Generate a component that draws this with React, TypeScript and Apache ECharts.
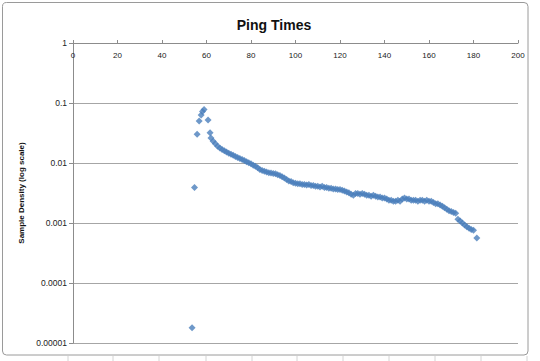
import React, { useEffect, useRef } from "react";
import * as echarts from "echarts";

const chartTitle = "Ping Times";
const yAxisTitle = "Sample Density (log scale)";
const xTickLabels = ["0", "20", "40", "60", "80", "100", "120", "140", "160", "180", "200"];
const yTickLabels = ["0.00001", "0.0001", "0.001", "0.01", "0.1", "1"];

// ping time (ms) for each sample bin
const pingMs = [
  53.5, 54.6, 55.8, 56.7, 57.6, 58.2, 58.9, 60.7, 61.6,
  62, 63, 64, 65, 66, 67, 68, 69, 70, 71, 72, 73, 74, 75, 76, 77, 78, 79, 80, 81,
  82, 83, 84, 85, 86, 87, 88, 89, 90, 91, 92, 93, 94, 95, 96, 97, 98, 99, 100, 101,
  102, 103, 104, 105, 106, 107, 108, 109, 110, 111, 112, 113, 114, 115, 116, 117, 118, 119, 120, 121,
  122, 123, 124, 125, 126, 127, 128, 129, 130, 131, 132, 133, 134, 135, 136, 137, 138, 139, 140, 141,
  142, 143, 144, 145, 146, 147, 148, 149, 150, 151, 152, 153, 154, 155, 156, 157, 158, 159, 160, 161,
  162, 163, 164, 165, 166, 167, 168, 169, 170, 171, 172,
  173, 174, 175, 176, 177, 178, 179, 180, 181.5,
];

// sample density
const density = [
  0.000018, 0.0039, 0.030, 0.050, 0.063, 0.072, 0.078, 0.052, 0.032,
  0.026, 0.023, 0.021, 0.019, 0.0178, 0.0168, 0.016, 0.0152, 0.0145, 0.014, 0.0134, 0.0128, 0.0124, 0.0119, 0.0114, 0.011, 0.0105, 0.0101, 0.0097, 0.0092,
  0.0088, 0.0083, 0.0078, 0.0075, 0.0073, 0.0071, 0.0069, 0.0068, 0.0067, 0.0066, 0.0064, 0.0062, 0.0059, 0.0056, 0.0053, 0.005, 0.0049, 0.0047, 0.0046, 0.0045,
  0.0045, 0.0044, 0.0044, 0.0043, 0.0044, 0.0042, 0.0042, 0.0041, 0.0041, 0.004, 0.0041, 0.0039, 0.0039, 0.0038, 0.0038, 0.0037, 0.0037, 0.0036, 0.0036, 0.0035,
  0.0034, 0.0033, 0.0032, 0.003, 0.0029, 0.0031, 0.0031, 0.003, 0.0031, 0.003, 0.0029, 0.0029, 0.0028, 0.0029, 0.0028, 0.0027, 0.0027, 0.0026, 0.0026, 0.0025,
  0.0024, 0.0024, 0.0023, 0.0023, 0.0024, 0.0023, 0.0025, 0.0026, 0.0025, 0.0025, 0.0024, 0.0024, 0.0024, 0.0023, 0.0024, 0.0024, 0.0023, 0.0024, 0.0023, 0.0023,
  0.0022, 0.0021, 0.0021, 0.002, 0.0019, 0.0018, 0.0017, 0.0016, 0.00155, 0.0015, 0.00145,
  0.00115, 0.00108, 0.001, 0.00093, 0.00087, 0.00082, 0.00078, 0.00076, 0.00056,
];

const FONT = "'Liberation Sans', Arial, sans-serif";

export default function App() {
  const ref = useRef<HTMLDivElement>(null);

  useEffect(() => {
    if (!ref.current) return;
    const chart = echarts.init(ref.current, null, { renderer: "svg" });
    const data = pingMs.map((x, i) => [x, density[i]]);
    const bottomTicks = [68, 113, 159, 206, 252, 297, 343, 389, 435, 481, 527];

    chart.setOption({
      animation: false,
      backgroundColor: "#ffffff",
      title: {
        text: chartTitle,
        left: 269,
        top: 13,
        textAlign: "center",
        textStyle: { fontFamily: FONT, fontSize: 14, fontWeight: "bold", color: "#111" },
      },
      grid: { left: 73, top: 43, right: 22, bottom: 18, containLabel: false },
      xAxis: {
        type: "value",
        position: "top",
        min: 0,
        max: 200,
        interval: 20,
        axisLine: { show: true, lineStyle: { color: "#8c8c8c", width: 1 } },
        axisTick: { show: true, inside: false, length: 3, lineStyle: { color: "#8c8c8c" } },
        axisLabel: {
          inside: true,
          margin: 8,
          fontFamily: FONT,
          fontSize: 8,
          color: "#222",
          formatter: (v: number) => xTickLabels[Math.round(v / 20)] ?? "",
        },
        splitLine: { show: false },
      },
      yAxis: {
        type: "log",
        logBase: 10,
        min: 0.00001,
        max: 1,
        splitNumber: 5,
        axisLine: { show: true, lineStyle: { color: "#8c8c8c", width: 1 } },
        axisTick: { show: true, inside: false, length: 4, lineStyle: { color: "#8c8c8c" } },
        minorTick: { show: false },
        axisLabel: {
          margin: 6,
          fontFamily: FONT,
          fontSize: 8.5,
          color: "#222",
          formatter: (v: number) => yTickLabels[Math.round(Math.log10(v)) + 5] ?? "",
        },
        splitLine: { show: true, lineStyle: { color: "#a6a6a6", width: 1 } },
      },
      series: [
        {
          type: "scatter",
          data,
          symbol: "diamond",
          symbolSize: 7,
          itemStyle: { color: "#4a7ebb" },
        },
      ],
      graphic: [
        {
          type: "rect",
          shape: { x: 2.5, y: 2.5, width: 525.5, height: 352.5, r: 4 },
          style: { fill: "none", stroke: "#9a9a9a", lineWidth: 1 },
          z: -1,
        },
        {
          type: "text",
          x: 21,
          y: 193,
          rotation: Math.PI / 2,
          style: {
            text: yAxisTitle,
            fontFamily: FONT,
            fontSize: 8,
            fontWeight: "bold",
            fill: "#111",
            textAlign: "center",
            textVerticalAlign: "middle",
          },
        },
        ...bottomTicks.map((bx) => ({
          type: "line",
          shape: { x1: bx, y1: 356, x2: bx, y2: 361 },
          style: { stroke: "#d4d4d4", lineWidth: 1 },
        })),
      ],
    });

    return () => chart.dispose();
  }, []);

  return (
    <div
      ref={ref}
      style={{ position: "fixed", left: 0, top: 0, width: 540, height: 361 }}
    />
  );
}
